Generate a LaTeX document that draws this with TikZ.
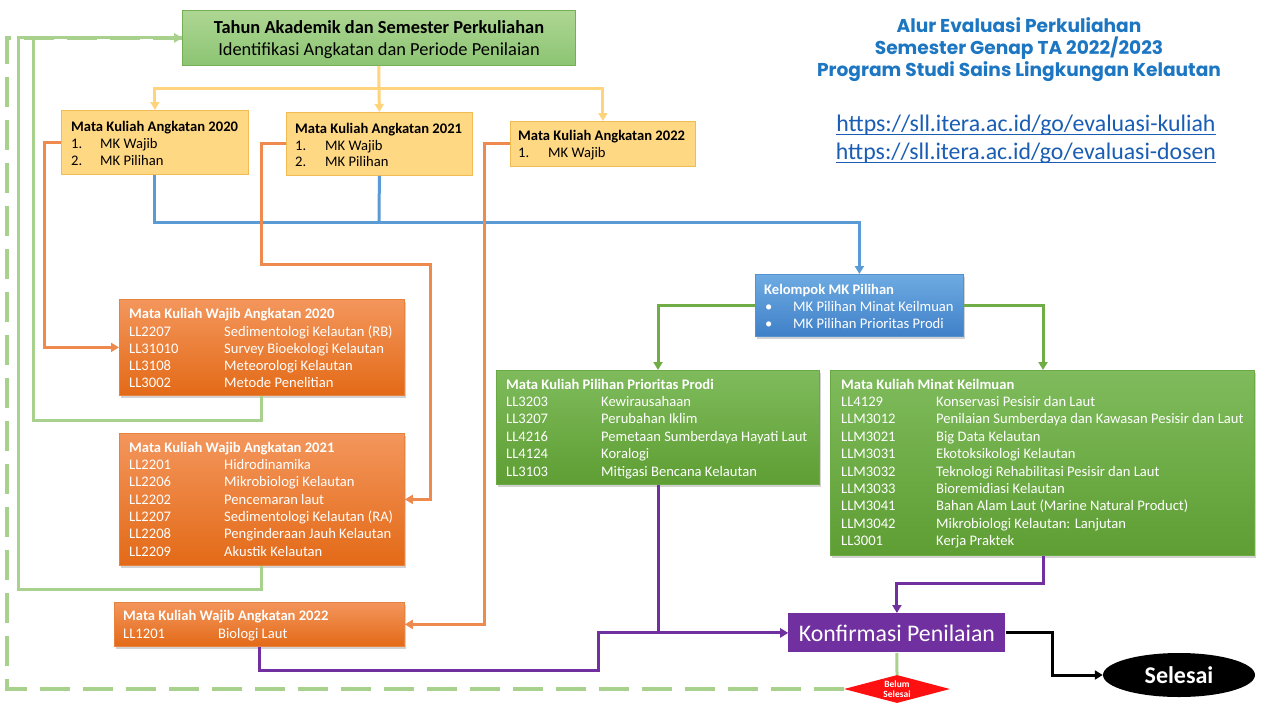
\documentclass[tikz,border=0pt]{standalone}
\usepackage{fontspec}
\setmainfont{Carlito}
\newfontfamily\titlefont{Poppins}
\usetikzlibrary{arrows.meta,shapes.geometric,shadows,calc}
\definecolor{yFill}{HTML}{FFD884}
\definecolor{yBord}{HTML}{F2BC55}
\definecolor{yWire}{HTML}{FFD47C}
\definecolor{tgTop}{HTML}{AED693}
\definecolor{tgBot}{HTML}{8CC473}
\definecolor{tgBord}{HTML}{74AE55}
\definecolor{oTop}{HTML}{F3965C}
\definecolor{oBot}{HTML}{E36A17}
\definecolor{oBord}{HTML}{E8823F}
\definecolor{oWire}{HTML}{EF8A4F}
\definecolor{gTop}{HTML}{7FBB5C}
\definecolor{gBot}{HTML}{5E9E33}
\definecolor{gBord}{HTML}{6BA945}
\definecolor{gWire}{HTML}{70AD47}
\definecolor{lgWire}{HTML}{A9D18E}
\definecolor{bTop}{HTML}{6EABE2}
\definecolor{bBot}{HTML}{3F80C8}
\definecolor{bBord}{HTML}{5590CF}
\definecolor{bWire}{HTML}{5B9BD5}
\definecolor{pur}{HTML}{7030A0}
\definecolor{titleBlue}{HTML}{1C76C2}
\definecolor{urlBlue}{HTML}{1A5DB4}
\definecolor{belRed}{HTML}{FF1010}
\newcommand\tsz{\fontsize{14.6}{17}\selectfont}
\tikzset{
  wire/.style={line width=3pt},
  tip/.style={-{Triangle[length=8pt,width=9pt]}},
  bx/.style={anchor=north west, inner sep=0pt, line width=0.8pt},
  ybox/.style={bx, draw=yBord, fill=yFill},
  tbox/.style={bx, draw=tgBord, top color=tgTop, bottom color=tgBot},
  obox/.style={bx, draw=oBord, top color=oTop, bottom color=oBot, drop shadow={opacity=0.35,shadow xshift=2pt,shadow yshift=-3pt}},
  gbox/.style={bx, draw=gBord, top color=gTop, bottom color=gBot, drop shadow={opacity=0.35,shadow xshift=2pt,shadow yshift=-3pt}},
  bbox/.style={bx, draw=bBord, top color=bTop, bottom color=bBot, drop shadow={opacity=0.35,shadow xshift=2pt,shadow yshift=-3pt}},
  txt/.style={anchor=base west, inner sep=0pt, font=\tsz},
  btxt/.style={txt, font=\tsz\bfseries},
  wtxt/.style={txt, text=white},
  wbtxt/.style={btxt, text=white},
}
\begin{document}
\begin{tikzpicture}[x=1pt,y=-1pt]
\useasboundingbox (0,0) rectangle (1266,712);
\fill[white] (0,0) rectangle (1266,712);

% ---------- boxes ----------
\node[tbox, minimum width=393pt, minimum height=55pt] (top) at (182,10) {};
\node[font=\fontsize{18.4}{22}\selectfont\bfseries, anchor=base, inner sep=0pt] (topa) at (379,33) {Tahun Akademik dan Semester Perkuliahan};
\node[font=\fontsize{18.4}{22}\selectfont, anchor=base, inner sep=0pt] (topb) at (379,55) {Identifikasi Angkatan dan Periode Penilaian};

\node[ybox, minimum width=187pt, minimum height=64pt] (a20) at (61,110) {};
\node[btxt] (a20t) at (71,131) {Mata Kuliah Angkatan 2020};
\node[txt] (a20n1) at (71,148) {1.};
\node[txt] (a20r1) at (100,148) {MK Wajib};
\node[txt] (a20n2) at (71,165) {2.};
\node[txt] (a20r2) at (100,165) {MK Pilihan};

\node[ybox, minimum width=186pt, minimum height=63pt] (a21) at (286,112) {};
\node[btxt] (a21t) at (295,133) {Mata Kuliah Angkatan 2021};
\node[txt] (a21n1) at (295,150) {1.};
\node[txt] (a21r1) at (325,150) {MK Wajib};
\node[txt] (a21n2) at (295,166) {2.};
\node[txt] (a21r2) at (325,166) {MK Pilihan};

\node[ybox, minimum width=185pt, minimum height=45pt] (a22) at (510,121) {};
\node[btxt] (a22t) at (518,140) {Mata Kuliah Angkatan 2022};
\node[txt] (a22n1) at (518,157) {1.};
\node[txt] (a22r1) at (548,157) {MK Wajib};

% Wajib 2020
\node[obox, minimum width=285pt, minimum height=96pt] (w20) at (119,299) {};
\node[wbtxt] (w20t) at (129,318) {Mata Kuliah Wajib Angkatan 2020};
\foreach \c/\n/\y [count=\i] in {LL2207/Sedimentologi Kelautan (RB)/336,LL31010/Survey Bioekologi Kelautan/353,LL3108/Meteorologi Kelautan/370,LL3002/Metode Penelitian/387}{
  \node[wtxt] (w20c\i) at (129,\y) {\c};
  \node[wtxt] (w20n\i) at (224,\y) {\n};
}
% Wajib 2021
\node[obox, minimum width=285pt, minimum height=132pt] (w21) at (119,433) {};
\node[wbtxt] (w21t) at (129,452) {Mata Kuliah Wajib Angkatan 2021};
\foreach \c/\n/\y [count=\i] in {LL2201/Hidrodinamika/469,LL2206/Mikrobiologi Kelautan/486,LL2202/Pencemaran laut/504,LL2207/Sedimentologi Kelautan (RA)/521,LL2208/Penginderaan Jauh Kelautan/538,LL2209/Akustik Kelautan/556}{
  \node[wtxt] (w21c\i) at (129,\y) {\c};
  \node[wtxt] (w21n\i) at (224,\y) {\n};
}
% Wajib 2022
\node[obox, minimum width=290pt, minimum height=44pt] (w22) at (114,602) {};
\node[wbtxt] (w22t) at (123,620) {Mata Kuliah Wajib Angkatan 2022};
\node[wtxt] (w22c1) at (123,638) {LL1201};
\node[wtxt] (w22n1) at (218,638) {Biologi Laut};

% Kelompok
\node[bbox, minimum width=208pt, minimum height=62pt] (kel) at (755,274) {};
\node[wbtxt] (kelt) at (764,294) {Kelompok MK Pilihan};
\node[wtxt] (kelb1) at (765,311) {\textbullet};
\node[wtxt] (kelr1) at (793,311) {MK Pilihan Minat Keilmuan};
\node[wtxt] (kelb2) at (765,328) {\textbullet};
\node[wtxt] (kelr2) at (793,328) {MK Pilihan Prioritas Prodi};

% Prioritas
\node[gbox, minimum width=323pt, minimum height=114pt] (pri) at (496,370) {};
\node[wbtxt] (prit) at (506,389) {Mata Kuliah Pilihan Prioritas Prodi};
\foreach \c/\n/\y [count=\i] in {LL3203/Kewirausahaan/406,LL3207/Perubahan Iklim/423,LL4216/Pemetaan Sumberdaya Hayati Laut/441,LL4124/Koralogi/458,LL3103/Mitigasi Bencana Kelautan/476}{
  \node[wtxt] (pric\i) at (506,\y) {\c};
  \node[wtxt] (prin\i) at (601,\y) {\n};
}
% Minat
\node[gbox, minimum width=424pt, minimum height=185pt] (min) at (830,370) {};
\node[wbtxt] (mint) at (841,389) {Mata Kuliah Minat Keilmuan};
\foreach \c/\n/\y [count=\i] in {LL4129/Konservasi Pesisir dan Laut/406,LLM3012/Penilaian Sumberdaya dan Kawasan Pesisir dan Laut/423,LLM3021/Big Data Kelautan/441,LLM3031/Ekotoksikologi Kelautan/458,LLM3032/Teknologi Rehabilitasi Pesisir dan Laut/476,LLM3033/Bioremidiasi Kelautan/493,LLM3041/Bahan Alam Laut (Marine Natural Product)/510,LLM3042/Mikrobiologi Kelautan: Lanjutan/528,LL3001/Kerja Praktek/545}{
  \node[wtxt] (minc\i) at (841,\y) {\c};
  \node[wtxt] (minn\i) at (936,\y) {\n};
}

% Konfirmasi
\node[bx, fill=pur, minimum width=217pt, minimum height=39pt] (konf) at (788,613) {};
\node[text=white, font=\fontsize{23.8}{26}\selectfont, inner sep=0pt] (konft) at (konf.center) {Konfirmasi Penilaian};

% Selesai
\node[ellipse, fill=black, minimum width=152pt, minimum height=44pt, inner sep=0pt, text=white, font=\fontsize{24}{26}\selectfont\bfseries] (sel) at (1179,675) {Selesai};

% Belum selesai
\node[diamond, fill=belRed, minimum width=106pt, minimum height=28pt, inner sep=0pt] (bel) at (897,689) {};
\node[text=white, font=\fontsize{9.5}{10.5}\selectfont\bfseries, align=center, inner sep=0pt] (belt) at (897,689) {Belum\\Selesai};

% ---------- connectors ----------
% yellow
\coordinate (yj) at (379,88);
\draw[wire, yWire] (top.south) -- (yj);
\draw[wire, yWire, tip] (yj) -| (a20.north);
\draw[wire, yWire, tip] (yj) -| (a22.north);
\draw[wire, yWire, tip] (yj) -- (a21.north);

% blue
\coordinate (bj) at (379,222);
\draw[wire, bWire, tip] (a20.south) |- (bj) -| (kel.north);
\draw[wire, bWire] (a21.south) -- (bj);

% orange
\draw[wire, oWire, tip] (a20.west) -- ++(-17,0) |- (w20.west);
\coordinate (o21) at (430,264);
\draw[wire, oWire, tip] (a21.west) -- ++(-25,0) |- (o21) |- (w21.east);
\draw[wire, oWire, tip] (a22.west) -- ++(-26,0) |- (w22.east);

% light green returns
\coordinate (g1) at (33,420);
\coordinate (g2) at (18,589);
\coordinate (g3) at (7,689);
\draw[wire, lgWire, tip] (w20.south) |- (g1) |- (top.west);
\draw[wire, lgWire, tip] (w21.south) |- (g2) |- (top.west);
\draw[line width=4pt, lgWire, dash pattern=on 30pt off 13pt] (bel.west) -- (g3) |- (top.west);
\draw[wire, lgWire] (konf.south) -- (bel.north);

% green from Kelompok
\draw[wire, gWire, tip] (kel.west) -| ($(pri.north west)+(162,0)$);
\draw[wire, gWire, tip] (kel.east) -| ($(min.north west)+(213,0)$);

% purple
\coordinate (pj) at (598,670);
\draw[wire, pur, tip] ($(pri.south west)+(162,0)$) |- (konf.west);
\draw[wire, pur, tip] (w22.south) |- (pj) |- (konf.west);
\draw[wire, pur, tip] ($(min.south west)+(213,0)$) -- ++(0,28) -| (konf.north);

% black
\draw[wire, black, tip] (konf.east) -- ++(47,0) |- (sel.west);

% ---------- titles ----------
\node[text=titleBlue, font=\titlefont\bfseries\fontsize{18.6}{22}\selectfont, anchor=base, inner sep=0pt] (ti1) at (1019,32) {Alur Evaluasi Perkuliahan};
\node[text=titleBlue, font=\titlefont\bfseries\fontsize{18.6}{22}\selectfont, anchor=base, inner sep=0pt] (ti2) at (1019,54) {Semester Genap TA 2022/2023};
\node[text=titleBlue, font=\titlefont\bfseries\fontsize{18.6}{22}\selectfont, anchor=base, inner sep=0pt] (ti3) at (1019,76) {Program Studi Sains Lingkungan Kelautan};
\node[text=urlBlue, font=\fontsize{23.8}{26}\selectfont, anchor=base, inner sep=0pt] (u1) at (1026,131) {https://sll.itera.ac.id/go/evaluasi-kuliah};
\node[text=urlBlue, font=\fontsize{23.8}{26}\selectfont, anchor=base, inner sep=0pt] (u2) at (1026,159) {https://sll.itera.ac.id/go/evaluasi-dosen};
\draw[urlBlue, line width=1pt] ($(u1.base west)+(0,3)$) -- ($(u1.base east)+(0,3)$);
\draw[urlBlue, line width=1pt] ($(u2.base west)+(0,3)$) -- ($(u2.base east)+(0,3)$);
\end{tikzpicture}
\end{document}
